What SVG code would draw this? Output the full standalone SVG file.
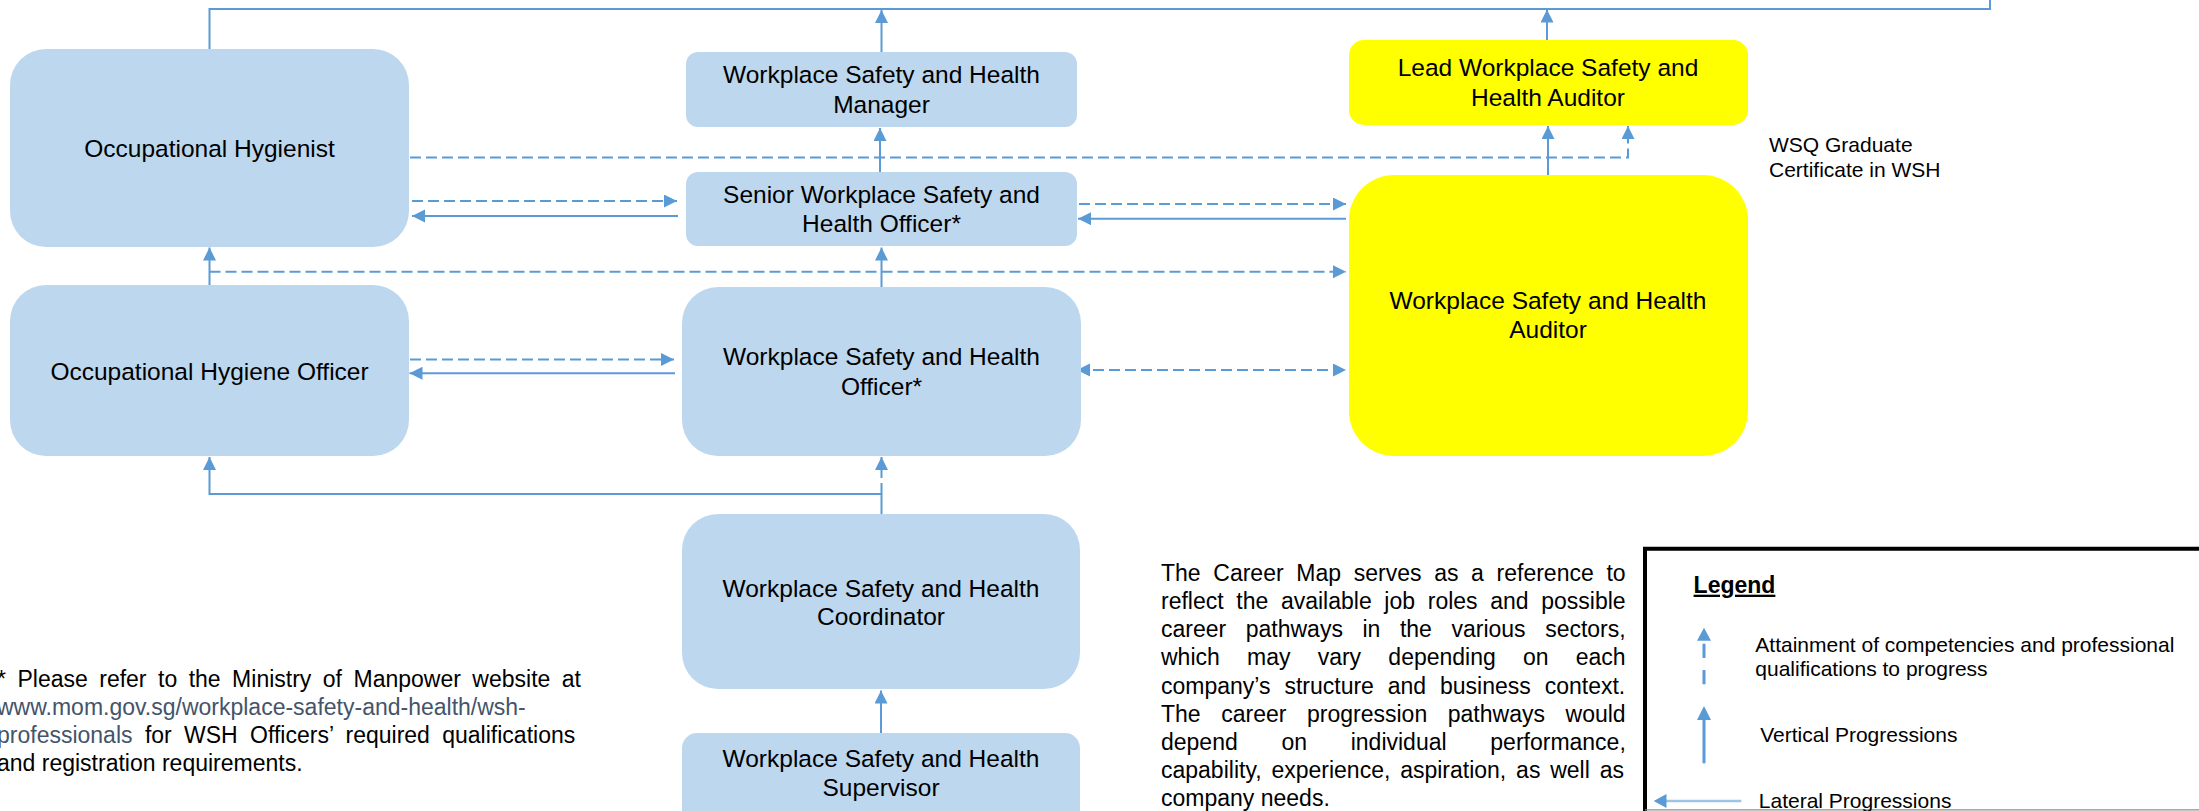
<svg xmlns="http://www.w3.org/2000/svg" width="2199" height="811" viewBox="0 0 2199 811">
<defs>
<style>
.box{fill:#BDD7EE;}
.ybox{fill:#FFFF00;}
.bt{font-family:"Liberation Sans",Arial,sans-serif;font-size:24.5px;fill:#000;text-anchor:middle;}
.st{font-family:"Liberation Sans",Arial,sans-serif;font-size:21px;fill:#000;}
.pt{font-family:"Liberation Sans",Arial,sans-serif;font-size:23px;fill:#000;}
.link{fill:#44546A;}
.c{fill:none;stroke:#5B9BD5;stroke-width:2;}
.d{stroke-dasharray:11 5;}
.a{marker-end:url(#ah);}
.a2{marker-start:url(#ah);}
</style>
<marker id="ah" markerUnits="userSpaceOnUse" markerWidth="14" markerHeight="14" refX="13" refY="6.5" orient="auto-start-reverse" viewBox="0 0 14 14">
<path d="M0,0 L13,6.5 L0,13 z" fill="#5B9BD5"/>
</marker>
</defs>

<g id="connectors">
<path class="c" d="M209.5,49 V9 H1990 V0"/>
<path class="c a" d="M881.5,52 V10"/>
<path class="c a" d="M1547,40 V9.5"/>
<path class="c a" d="M880,172 V128"/>
<path class="c a" d="M881.5,287 V247.5"/>
<path class="c a" d="M209.5,285 V247.5"/>
<path class="c a" d="M1548,175 V126"/>
<path class="c d a" d="M410,157.5 H1628 V126"/>
<path class="c d a" d="M412,201 H677"/>
<path class="c a" d="M678,216 H412"/>
<path class="c d a" d="M1079,204 H1346"/>
<path class="c a" d="M1346,218.7 H1078"/>
<path class="c d a" d="M209.5,271.7 H1346"/>
<path class="c d a" d="M410,359.5 H674"/>
<path class="c a" d="M675,373.3 H409.5"/>
<path class="c d a a2" d="M1077,370 H1346"/>
<path class="c a" d="M881.5,514 V494 H209.5 V457"/>
<path class="c d a" d="M881.5,494 V457"/>
<path class="c a" d="M881,733 V690.5"/>
</g>

<g id="node-oh">
<rect class="box" x="10" y="49" width="399" height="198" rx="36"/>
<text class="bt" x="209.5" y="157">Occupational Hygienist</text>
</g>
<g id="node-manager">
<rect class="box" x="686" y="52" width="391" height="75" rx="12"/>
<text class="bt" x="881.5" y="83.3">Workplace Safety and Health</text>
<text class="bt" x="881.5" y="112.7">Manager</text>
</g>
<g id="node-lead">
<rect class="ybox" x="1349" y="40" width="399" height="85" rx="15"/>
<text class="bt" x="1548" y="76">Lead Workplace Safety and</text>
<text class="bt" x="1548" y="106">Health Auditor</text>
</g>
<g id="node-senior">
<rect class="box" x="686" y="172" width="391" height="74" rx="12"/>
<text class="bt" x="881.5" y="203.3">Senior Workplace Safety and</text>
<text class="bt" x="881.5" y="232.3">Health Officer*</text>
</g>
<g id="node-auditor">
<rect class="ybox" x="1349" y="175" width="399" height="281" rx="45"/>
<text class="bt" x="1548" y="309.3">Workplace Safety and Health</text>
<text class="bt" x="1548" y="338.3">Auditor</text>
</g>
<g id="node-oho">
<rect class="box" x="10" y="285" width="399" height="171" rx="36"/>
<text class="bt" x="209.5" y="380">Occupational Hygiene Officer</text>
</g>
<g id="node-wsho">
<rect class="box" x="682" y="287" width="399" height="169" rx="36"/>
<text class="bt" x="881.5" y="365">Workplace Safety and Health</text>
<text class="bt" x="881.5" y="395">Officer*</text>
</g>
<g id="node-coordinator">
<rect class="box" x="682" y="514" width="398" height="175" rx="36"/>
<text class="bt" x="881" y="596.7">Workplace Safety and Health</text>
<text class="bt" x="881" y="625">Coordinator</text>
</g>
<g id="node-supervisor">
<rect class="box" x="682" y="733" width="398" height="110" rx="15"/>
<text class="bt" x="881" y="766.7">Workplace Safety and Health</text>
<text class="bt" x="881" y="796">Supervisor</text>
</g>

<g id="wsq-label">
<text class="st" x="1769" y="151.7">WSQ Graduate</text>
<text class="st" x="1769" y="176.7">Certificate in WSH</text>
</g>

<g id="footnote">
<text class="pt" x="-3" y="686.7" word-spacing="5.09">* Please refer to the Ministry of Manpower website at</text>
<text class="pt link" x="-3" y="714.7">www.mom.gov.sg/workplace-safety-and-health/wsh-</text>
<text class="pt" x="-3" y="742.7" word-spacing="5.96"><tspan class="link">professionals</tspan> for WSH Officers’ required qualifications</text>
<text class="pt" x="-3" y="770.7">and registration requirements.</text>
</g>

<g id="career-note">
<text class="pt" x="1161" y="581" word-spacing="6.29">The Career Map serves as a reference to</text>
<text class="pt" x="1161" y="609.1" word-spacing="6.27">reflect the available job roles and possible</text>
<text class="pt" x="1161" y="637.3" word-spacing="13.16">career pathways in the various sectors,</text>
<text class="pt" x="1161" y="665.4" word-spacing="20.82">which may vary depending on each</text>
<text class="pt" x="1161" y="693.6" word-spacing="7.5">company’s structure and business context.</text>
<text class="pt" x="1161" y="721.7" word-spacing="14.2">The career progression pathways would</text>
<text class="pt" x="1161" y="749.8" word-spacing="37.3">depend on individual performance,</text>
<text class="pt" x="1161" y="778" word-spacing="3.44">capability, experience, aspiration, as well as</text>
<text class="pt" x="1161" y="806">company needs.</text>
</g>

<g id="legend">
<path d="M1645,811 V548.7 H2199" fill="none" stroke="#000" stroke-width="4"/>
<path d="M1645,809.8 H2199" fill="none" stroke="#8c8c8c" stroke-width="1.2"/>
<text class="pt" x="1693.6" y="592.7" font-weight="bold" text-decoration="underline">Legend</text>
<path d="M1704,684.3 V640" fill="none" stroke="#5B9BD5" stroke-width="3" stroke-dasharray="14.3 12"/>
<path d="M1697,640.7 L1704,627.7 L1711,640.7 z" fill="#5B9BD5"/>
<text class="st" x="1755.3" y="651.7">Attainment of competencies and professional</text>
<text class="st" x="1755.3" y="676">qualifications to progress</text>
<path d="M1704,763.3 V718" fill="none" stroke="#5B9BD5" stroke-width="3"/>
<path d="M1697,720 L1704,706 L1711,720 z" fill="#5B9BD5"/>
<text class="st" x="1760.2" y="741.7">Vertical Progressions</text>
<path d="M1741.3,801 H1664" fill="none" stroke="#9DC3E6" stroke-width="2.5"/>
<path d="M1666.5,794 L1653.7,801 L1666.5,808 z" fill="#5B9BD5"/>
<text class="st" x="1758.8" y="808">Lateral Progressions</text>
</g>
</svg>
